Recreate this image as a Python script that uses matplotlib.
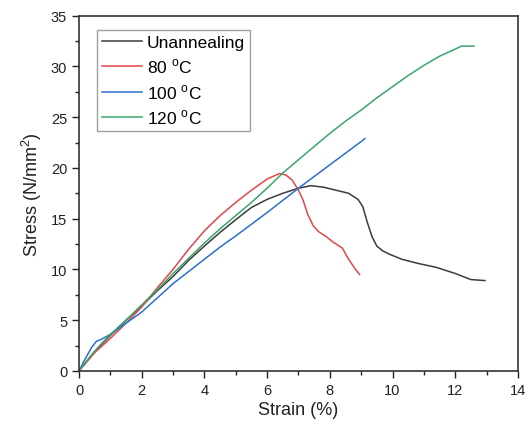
import matplotlib
matplotlib.use("Agg")
import matplotlib.pyplot as plt
from matplotlib.ticker import MultipleLocator

plt.rcParams['font.family'] = ['Liberation Sans', 'DejaVu Sans']
plt.rcParams['mathtext.fontset'] = 'custom'
plt.rcParams['mathtext.rm'] = 'Liberation Sans'

# --- data ---
unanneal_x = [0, 0.5, 1.0, 1.5, 2.0, 2.5, 3.0, 3.5, 4.0, 4.5, 5.0, 5.5, 6.0, 6.5, 7.0,
              7.4, 7.8, 8.2, 8.6, 8.9, 9.05, 9.2, 9.35, 9.5, 9.7, 9.9, 10.3, 10.8,
              11.4, 12.0, 12.5, 12.95]
unanneal_y = [0, 1.9, 3.5, 5.0, 6.4, 7.9, 9.3, 10.9, 12.3, 13.65, 14.9, 16.1, 16.9,
              17.5, 18.0, 18.25, 18.1, 17.8, 17.5, 16.9, 16.2, 14.6, 13.2, 12.3, 11.8,
              11.5, 11.0, 10.6, 10.2, 9.6, 9.0, 8.9]

t80_x = [0, 0.5, 1.0, 1.5, 2.0, 2.5, 3.0, 3.5, 4.0, 4.5, 5.0, 5.5, 6.0, 6.4, 6.6,
         6.8, 7.0, 7.15, 7.3, 7.47, 7.65, 7.9, 8.1, 8.4, 8.6, 8.8, 8.95]
t80_y = [0, 1.8, 3.2, 4.7, 6.3, 8.2, 10.0, 12.0, 13.8, 15.3, 16.6, 17.8, 18.9, 19.45,
         19.3, 18.8, 17.8, 16.8, 15.4, 14.3, 13.7, 13.2, 12.7, 12.1, 11.0, 10.1, 9.5]

t100_x = [0, 0.2, 0.4, 0.55, 0.7, 1.0, 1.5, 2.0, 2.5, 3.0, 3.5, 4.0, 4.5, 5.0, 6.0,
          7.0, 8.0, 9.0, 9.12]
t100_y = [0, 1.2, 2.3, 2.9, 3.1, 3.6, 4.7, 5.8, 7.2, 8.6, 9.8, 11.0, 12.2, 13.3, 15.6,
          18.0, 20.3, 22.6, 22.9]

t120_x = [0, 0.3, 0.6, 1.0, 1.5, 2.0, 2.5, 3.0, 3.5, 4.0, 4.5, 5.0, 5.5, 6.0, 6.5,
          7.0, 7.5, 8.0, 8.5, 9.0, 9.5, 10.0, 10.5, 11.0, 11.5, 12.0, 12.2, 12.6]
t120_y = [0, 1.2, 2.3, 3.6, 5.0, 6.5, 8.0, 9.6, 11.1, 12.6, 14.0, 15.3, 16.6, 18.0,
          19.5, 20.8, 22.1, 23.4, 24.6, 25.7, 26.9, 28.0, 29.1, 30.1, 31.0, 31.7,
          32.0, 32.0]

labels = ['Unannealing', '80 $^\\mathregular{o}$C', '100 $^\\mathregular{o}$C',
          '120 $^\\mathregular{o}$C']
colors = ['#3c3c3c', '#e0474c', '#2a6fd1', '#3aa56b']

fig = plt.figure(figsize=(5.32, 4.27), dpi=100)
ax = fig.add_axes([0.1485, 0.129, 0.825, 0.832])

series = [(unanneal_x, unanneal_y), (t80_x, t80_y), (t100_x, t100_y), (t120_x, t120_y)]
for (xs, ys), lab, col in zip(series, labels, colors):
    ax.plot(xs, ys, color=col, linewidth=1.1, label=lab)

ax.set_xlim(0, 14)
ax.set_ylim(0, 35)
ax.xaxis.set_major_locator(MultipleLocator(2))
ax.xaxis.set_minor_locator(MultipleLocator(1))
ax.yaxis.set_major_locator(MultipleLocator(5))
ax.yaxis.set_minor_locator(MultipleLocator(2.5))
ax.tick_params(which='major', direction='out', length=5, width=1, labelsize=10.5,
               colors='#222222')
ax.tick_params(which='minor', direction='out', length=3, width=1, colors='#222222')
for sp in ax.spines.values():
    sp.set_linewidth(1.2)
    sp.set_color('#333333')

ax.set_xlabel('Strain (%)', fontsize=13, color='#222222', labelpad=3)
ax.set_ylabel('Stress (N/mm$^\\mathregular{2}$)', fontsize=13, color='#222222', labelpad=5)

leg = ax.legend(loc='upper left', bbox_to_anchor=(0.04, 0.96), fontsize=12.5,
                frameon=True, fancybox=False, edgecolor='#888888', handlelength=2.3,
                handletextpad=0.3, labelspacing=0.38, borderpad=0.3, borderaxespad=0)
leg.get_frame().set_linewidth(1.0)

fig.savefig('out.png', dpi=100)
